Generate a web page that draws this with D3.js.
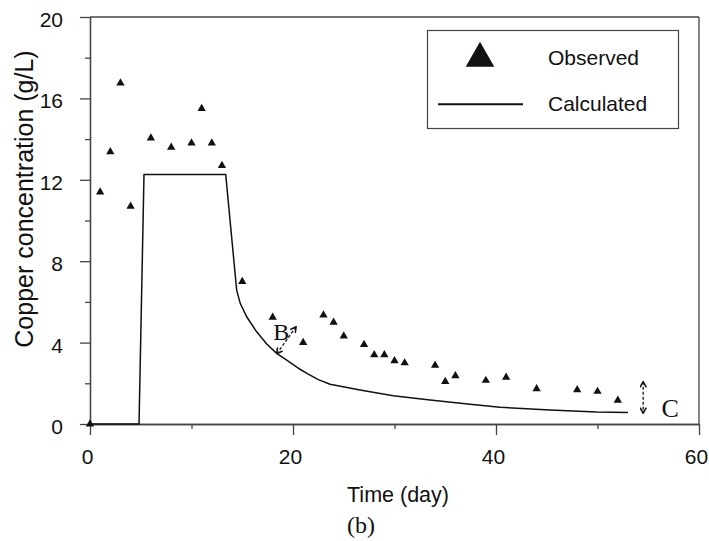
<!DOCTYPE html>
<html lang="en">
<head>
    <meta charset="UTF-8">
    <title>Copper concentration</title>
    <script src="https://d3js.org/d3.v7.min.js"></script>
    <style>
        body { margin: 0; background: #fff; }
        svg text { font-family: "Liberation Sans", Arial, sans-serif; fill: #111; }
        .serif { font-family: "Liberation Serif", "Times New Roman", serif !important; }
        .axis path, .axis line { stroke: #444; stroke-width: 1.3px; }
        .axis text { font-size: 21px; fill: #111; }
    </style>
</head>
<body>
    <script>

        var w = 709;
        var h = 541;
        var margin = {top: 17, right: 10, bottom: 117, left: 90};

        // observed triangles
        var obsDays = [0, 1, 2, 3, 4, 6, 8, 10, 11, 12, 13, 15, 18, 21, 23, 24, 25, 27, 28, 29, 30, 31, 34, 35, 36, 39, 41, 44, 48, 50, 52];
        var obsValues = [0, 11.4, 13.37, 16.75, 10.7, 14.05, 13.6, 13.8, 15.5, 13.8, 12.7, 7.0, 5.24, 4.0, 5.35, 5.0, 4.32, 3.9, 3.4, 3.4, 3.1, 3.0, 2.88, 2.08, 2.37, 2.14, 2.29, 1.73, 1.68, 1.6, 1.16];

        // calculated line
        var calcDays = [0, 4.83, 5.32, 13.37, 14.45, 14.8, 15.44, 16.42, 17.41, 18.39, 19.38, 20.2, 20.69, 21.5, 22.5, 23.65, 26.6, 29.88, 33.5, 37.44, 40.4, 45.3, 49.9, 53.0];
        var calcValues = [0, 0, 12.26, 12.26, 6.58, 5.93, 5.27, 4.53, 3.93, 3.47, 3.14, 2.86, 2.69, 2.45, 2.18, 1.95, 1.67, 1.39, 1.18, 0.97, 0.82, 0.69, 0.59, 0.56];

        var xMajor = [0, 20, 40, 60];
        var xMinor = [10, 30, 50];
        var yMajor = [0, 4, 8, 12, 16, 20];
        var yMinor = [2, 6, 10, 14, 18];

        var svg = d3.select("body")
            .append("svg")
            .attr("width", w)
            .attr("height", h);

        var xScale = d3.scaleLinear()
            .domain([0, 60])
            .range([margin.left, w - margin.right]);

        var yScale = d3.scaleLinear()
            .domain([0, 20])
            .range([h - margin.bottom, margin.top]);

        var x0 = xScale(0), x1 = xScale(60), y0 = yScale(0), y1 = yScale(20);

        // frame top + right
        svg.append("line").attr("x1", x0).attr("x2", x1).attr("y1", y1).attr("y2", y1)
            .attr("stroke", "#444").attr("stroke-width", 1.3);
        svg.append("line").attr("x1", x1).attr("x2", x1).attr("y1", y1).attr("y2", y0)
            .attr("stroke", "#444").attr("stroke-width", 1.3);

        // axes
        svg.append("g").attr("class", "axis")
            .attr("transform", "translate(0," + y0 + ")")
            .call(d3.axisBottom(xScale).tickValues(xMinor).tickSize(5).tickFormat("").tickSizeOuter(0));
        var xa = svg.append("g").attr("class", "axis")
            .attr("transform", "translate(0," + y0 + ")")
            .call(d3.axisBottom(xScale).tickValues(xMajor).tickSize(11).tickPadding(14).tickSizeOuter(0));
        xa.selectAll(".tick text").attr("dx", -3);

        svg.append("g").attr("class", "axis")
            .attr("transform", "translate(" + x0 + ",0)")
            .call(d3.axisLeft(yScale).tickValues(yMinor).tickSize(5).tickFormat("").tickSizeOuter(0));
        var ya = svg.append("g").attr("class", "axis")
            .attr("transform", "translate(" + x0 + ",0)")
            .call(d3.axisLeft(yScale).tickValues(yMajor).tickSize(10).tickPadding(17).tickSizeOuter(0));
        ya.selectAll(".tick text").attr("dy", "0.45em");

        // axis titles
        svg.append("text")
            .attr("x", 398)
            .attr("y", 502)
            .attr("text-anchor", "middle")
            .style("font-size", "21.5px")
            .text("Time (day)");

        svg.append("text")
            .attr("transform", "translate(33,199) rotate(-90)")
            .attr("text-anchor", "middle")
            .style("font-size", "25px")
            .text("Copper concentration (g/L)");

        svg.append("text")
            .attr("class", "serif")
            .attr("x", 347)
            .attr("y", 533)
            .style("font-size", "24px")
            .text("(b)");

        // calculated line
        var line = d3.line()
            .x(function (d, i) { return xScale(calcDays[i]); })
            .y(function (d) { return yScale(d); });

        svg.append("path")
            .datum(calcValues)
            .attr("d", line)
            .attr("fill", "none")
            .attr("stroke", "#111")
            .attr("stroke-width", 1.5);

        // observed points
        var tri = d3.symbol().type(d3.symbolTriangle).size(30);
        svg.selectAll(".obs")
            .data(obsValues)
            .enter()
            .append("path")
            .attr("class", "obs")
            .attr("d", tri)
            .attr("transform", function (d, i) {
                return "translate(" + xScale(obsDays[i]) + "," + yScale(d) + ")";
            })
            .attr("fill", "#111");

        // arrow markers
        var defs = svg.append("defs");
        defs.append("marker")
            .attr("id", "head")
            .attr("viewBox", "0 -5 10 10")
            .attr("refX", 9)
            .attr("refY", 0)
            .attr("markerWidth", 7)
            .attr("markerHeight", 7)
            .attr("markerUnits", "userSpaceOnUse")
            .attr("orient", "auto-start-reverse")
            .append("path")
            .attr("d", "M1,-4.5L9,0L1,4.5")
            .attr("fill", "none")
            .attr("stroke", "#111")
            .attr("stroke-width", 2.2);

        // B annotation
        svg.append("line")
            .attr("x1", xScale(18.4)).attr("y1", yScale(3.45))
            .attr("x2", xScale(20.3)).attr("y2", yScale(4.78))
            .attr("stroke", "#111").attr("stroke-width", 1.3)
            .attr("stroke-dasharray", "3,2")
            .attr("marker-start", "url(#head)")
            .attr("marker-end", "url(#head)");
        svg.append("text")
            .attr("class", "serif")
            .attr("x", xScale(18.05))
            .attr("y", yScale(4.12))
            .style("font-size", "24px")
            .text("B");

        // C annotation
        svg.append("line")
            .attr("x1", xScale(54.5)).attr("y1", yScale(2.08))
            .attr("x2", xScale(54.5)).attr("y2", yScale(0.53))
            .attr("stroke", "#111").attr("stroke-width", 1.3)
            .attr("stroke-dasharray", "3,2")
            .attr("marker-start", "url(#head)")
            .attr("marker-end", "url(#head)");
        svg.append("text")
            .attr("class", "serif")
            .attr("x", xScale(56.3))
            .attr("y", yScale(0.36))
            .style("font-size", "26px")
            .text("C");

        // legend
        var lg = svg.append("g");
        lg.append("rect")
            .attr("x", 427.5).attr("y", 30.5)
            .attr("width", 251).attr("height", 98)
            .attr("fill", "#fff")
            .attr("stroke", "#444")
            .attr("stroke-width", 1.2);
        lg.append("path")
            .attr("d", "M480,41.7L494.3,66.7L465.7,66.7Z")
            .attr("fill", "#111");
        lg.append("text")
            .attr("x", 548).attr("y", 65)
            .style("font-size", "21px")
            .text("Observed");
        lg.append("line")
            .attr("x1", 438).attr("x2", 523)
            .attr("y1", 104.3).attr("y2", 104.3)
            .attr("stroke", "#111").attr("stroke-width", 2);
        lg.append("text")
            .attr("x", 548).attr("y", 111)
            .style("font-size", "21px")
            .text("Calculated");

    </script>
</body>
</html>
